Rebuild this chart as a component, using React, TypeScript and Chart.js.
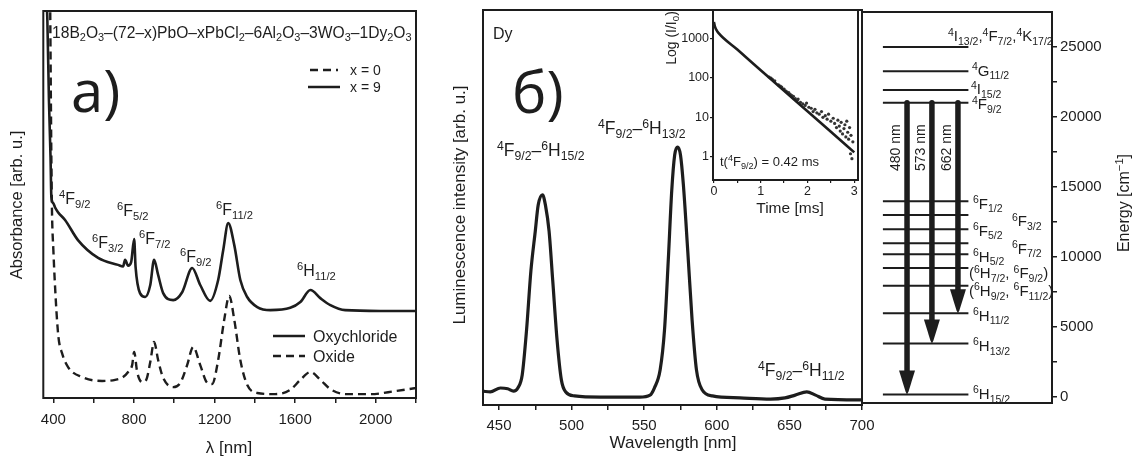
import React, { useEffect, useRef } from "react";
import { Chart, registerables } from "chart.js";

Chart.register(...registerables);

const SANS = "'Liberation Sans', Arial, Helvetica, sans-serif";
const PANEL_FONT = "'Open Sans', 'Noto Sans', sans-serif";
const INK = "#1d1d1d";

// ---------------- Panel a) absorbance ----------------
const absOxychlorideNm = [366, 370, 378, 386, 390, 400, 408, 423, 458, 522, 622, 721, 746, 756, 771, 786, 801, 808, 830, 856, 881, 900, 920, 945, 995, 1040, 1089, 1129, 1178, 1218, 1243, 1268, 1298, 1328, 1362, 1412, 1477, 1576, 1626, 1676, 1725, 1775, 1849, 2023, 2204];
const absOxychloride = [103, 98, 77, 62, 52, 50.3, 49.3, 48, 46, 40.8, 36.2, 34.4, 34.0, 35.7, 34.2, 35.1, 41.1, 33.9, 27.1, 26.1, 29.2, 35.7, 31.8, 27.1, 25.3, 27.4, 33.6, 29.2, 25.1, 30.5, 38.2, 45.2, 39.5, 30.5, 26.1, 23.5, 22.7, 23.3, 24.8, 27.9, 25.8, 24.0, 22.7, 22.5, 22.5];
const absOxideNm = [384, 390, 393, 400, 412, 425, 443, 473, 543, 642, 707, 746, 771, 791, 801, 816, 841, 861, 881, 900, 920, 945, 995, 1030, 1064, 1094, 1129, 1164, 1188, 1218, 1248, 1273, 1298, 1328, 1362, 1412, 1501, 1576, 1626, 1676, 1725, 1775, 1849, 1974, 2099, 2204];
const absOxide = [103, 62, 48.6, 38.2, 25.3, 15.8, 11.6, 8.0, 5.4, 4.4, 4.7, 5.4, 6.7, 8.5, 11.9, 6.7, 4.1, 4.7, 9.3, 14.5, 9.8, 5.2, 2.8, 3.9, 8.5, 13.2, 8.5, 3.9, 3.6, 9.8, 20.2, 26.4, 20.2, 9.8, 3.4, 1.3, 1.0, 2.1, 4.7, 6.7, 4.7, 2.3, 1.0, 1.0, 1.8, 2.6];
const absTickValues = [400, 600, 800, 1000, 1200, 1400, 1600, 1800, 2000, 2200];
const absTickLabels = ["400", "", "800", "", "1200", "", "1600", "", "2000", ""];

// ---------------- Panel б) luminescence ----------------
const lumiNm = [439, 444, 451, 456, 460, 463, 466, 469, 472, 475, 477, 480, 482, 484.5, 487, 490, 493, 496, 502, 520, 547, 554, 557, 561, 564, 566.6, 569, 571, 573, 575, 577, 580, 583, 586, 590, 597, 616, 637, 647, 654, 662, 668, 674.5, 700];
const lumiIntensity = [3.5, 3.3, 4.3, 4.1, 3.5, 4.3, 7.6, 19, 34, 44, 50.6, 53.2, 50.6, 44, 31.6, 16.5, 6.3, 3.3, 2.3, 2.0, 2.0, 2.5, 4.3, 8.9, 19, 36.7, 54.4, 63.3, 65.3, 63.3, 55.7, 39, 21.5, 8.9, 3.8, 2.3, 1.8, 1.5, 1.8, 2.5, 3.3, 2.5, 1.5, 1.3];
const lumiTickValues = [450, 475, 500, 525, 550, 575, 600, 625, 650, 675, 700];
const lumiTickLabels = ["450", "", "500", "", "550", "", "600", "", "650", "", "700"];

// ---------------- Inset: decay ----------------
const decayFitTime = [0, 0.02, 0.05, 0.1, 0.5, 1.0, 1.5, 2.0, 2.5, 3.0];
const decayFit = [2600, 2000, 1650, 1350, 518, 156, 47, 14.3, 4.3, 1.3];
const decayDotTime = [1.18, 1.22, 1.25, 1.3, 1.38, 1.42, 1.45, 1.5, 1.53, 1.56, 1.6, 1.63, 1.66, 1.7, 1.74, 1.78, 1.8, 1.85, 1.9, 1.95, 1.98, 2.03, 2.08, 2.12, 2.16, 2.2, 2.25, 2.3, 2.33, 2.38, 2.42, 2.45, 2.5, 2.55, 2.58, 2.62, 2.65, 2.68, 2.7, 2.72, 2.75, 2.78, 2.8, 2.82, 2.84, 2.86, 2.88, 2.9, 2.92, 2.93, 2.95, 2.97];
const decayDots = [105, 98, 92, 84, 66, 62, 58, 52, 47, 44, 42, 38, 36, 34, 30, 27, 29, 24, 22, 20, 23, 18, 17, 14, 16, 13, 12, 14, 10, 11, 9, 12, 8, 9.5, 7, 5.5, 8.5, 6, 4.5, 7.5, 3.8, 5.2, 6.5, 3.2, 8, 4.2, 2.8, 5.5, 1.2, 3.5, 0.9, 2.4];
const decayTimeTicks = [0, 0.5, 1, 1.5, 2, 2.5, 3];
const decayTimeLabels = ["0", "", "1", "", "2", "", "3"];
const decayLogTicks = [1, 10, 100, 1000];
const decayLogLabels = ["1", "10", "100", "1000"];

// ---------------- Energy levels ----------------
const levelNames = ["^{4}I_{13/2},^{4}F_{7/2},^{4}K_{17/2}", "^{4}G_{11/2}", "^{4}I_{15/2}", "^{4}F_{9/2}", "^{6}F_{1/2}", "^{6}F_{3/2}", "^{6}F_{5/2}", "^{6}F_{7/2}", "^{6}H_{5/2}", "(^{6}H_{7/2}, ^{6}F_{9/2})", "(^{6}H_{9/2}, ^{6}F_{11/2})", "^{6}H_{11/2}", "^{6}H_{13/2}", "^{6}H_{15/2}"];
const levelEnergy = [25000, 23270, 21920, 21016, 13980, 12985, 11970, 10974, 10190, 9197, 7940, 5970, 3795, 150];
const transitionLabels = ["480 nm", "573 nm", "662 nm"];
const transitionFrom = [21016, 21016, 21016];
const transitionTo = [150, 3795, 5970];
const energyTickValues = [0, 2500, 5000, 7500, 10000, 12500, 15000, 17500, 20000, 22500, 25000];
const energyTickLabels = ["0", "", "5000", "", "10000", "", "15000", "", "20000", "", "25000"];

// layout of the level diagram (x in scale units 0..100, label positions in page px)
const levelLineX = [11, 56];
const arrowX = [23.7, 36.8, 50.5];
const levelLabelX = [948, 972, 971, 972, 973, 1012, 973, 1012, 973, 969, 969, 973, 973, 973];
const levelLabelDy = [-11, -1, -1, 1, 2, 6, 1, 5, 2, 5, 5, 2, 2, -1];

// ---------------- rich text helpers ----------------
const SMALL = 0.7;
type Seg = { t: string; k: number };
function parseRich(text: string): Seg[] {
  const out: Seg[] = [];
  let i = 0;
  const isMark = (j: number) => (text[j] === "^" || text[j] === "_") && text[j + 1] === "{";
  while (i < text.length) {
    if (isMark(i)) {
      const end = text.indexOf("}", i);
      out.push({ t: text.slice(i + 2, end), k: text[i] === "^" ? 1 : -1 });
      i = end + 1;
    } else {
      let j = i;
      while (j < text.length && !isMark(j)) j++;
      out.push({ t: text.slice(i, j), k: 0 });
      i = j;
    }
  }
  return out;
}
function richWidth(ctx: CanvasRenderingContext2D, text: string, size: number, family = SANS) {
  let w = 0;
  for (const p of parseRich(text)) {
    ctx.font = `${p.k === 0 ? size : size * SMALL}px ${family}`;
    w += ctx.measureText(p.t).width;
  }
  return w;
}
function drawRich(ctx: CanvasRenderingContext2D, text: string, x: number, y: number, size: number, align = "left", family = SANS, color = INK) {
  const parts = parseRich(text);
  const total = richWidth(ctx, text, size, family);
  let cx = align === "center" ? x - total / 2 : align === "right" ? x - total : x;
  const base = y + size * 0.358;
  ctx.fillStyle = color;
  ctx.textBaseline = "alphabetic";
  ctx.textAlign = "left";
  for (const p of parts) {
    const s = p.k === 0 ? size : size * SMALL;
    ctx.font = `${s}px ${family}`;
    const dy = p.k === 1 ? -size * 0.37 : p.k === -1 ? size * 0.24 : 0;
    ctx.fillText(p.t, cx, base + dy);
    cx += ctx.measureText(p.t).width;
  }
}
function drawRotated(ctx: CanvasRenderingContext2D, text: string, cx: number, cy: number, size: number) {
  ctx.save();
  ctx.translate(cx, cy);
  ctx.rotate(-Math.PI / 2);
  drawRich(ctx, text, 0, 0, size, "center");
  ctx.restore();
}
function hLine(ctx: CanvasRenderingContext2D, x1: number, x2: number, y: number, dash: number[]) {
  ctx.save();
  ctx.strokeStyle = INK;
  ctx.lineWidth = 2.5;
  ctx.setLineDash(dash);
  ctx.beginPath();
  ctx.moveTo(x1, y);
  ctx.lineTo(x2, y);
  ctx.stroke();
  ctx.restore();
}

const TICK_GRID = { display: true, drawOnChartArea: false, drawTicks: true, tickLength: 5, color: INK, lineWidth: 1.5 };

const boxPlugin = {
  id: "box",
  afterDatasetsDraw(chart: any) {
    const { ctx, chartArea: a } = chart;
    ctx.save();
    ctx.strokeStyle = INK;
    ctx.lineWidth = 2;
    ctx.strokeRect(a.left, a.top, a.right - a.left, a.bottom - a.top);
    ctx.restore();
  },
};

function overlay(id: string, offX: number, offY: number, draw: (ctx: CanvasRenderingContext2D, chart: any) => void) {
  return {
    id,
    afterDraw(chart: any) {
      const ctx = chart.ctx as CanvasRenderingContext2D;
      ctx.save();
      ctx.translate(-offX, -offY);
      draw(ctx, chart);
      ctx.restore();
    },
  };
}

const baseOptions = { responsive: false, animation: false, events: [] as any[], plugins: { legend: { display: false }, tooltip: { enabled: false } } };

// ---------------- chart factories ----------------
function makeAbsorbance(): any {
  const title = "18B_{2}O_{3}–(72–x)PbO–xPbCl_{2}–6Al_{2}O_{3}–3WO_{3}–1Dy_{2}O_{3}";
  return {
    type: "line",
    data: {
      datasets: [
        { label: "Oxychloride", data: absOxychlorideNm.map((x, i) => ({ x, y: absOxychloride[i] })), borderColor: INK, borderWidth: 2.6, pointRadius: 0, cubicInterpolationMode: "monotone" },
        { label: "Oxide", data: absOxideNm.map((x, i) => ({ x, y: absOxide[i] })), borderColor: INK, borderWidth: 2.4, borderDash: [8, 5], pointRadius: 0, cubicInterpolationMode: "monotone" },
      ],
    },
    options: {
      ...baseOptions,
      layout: { padding: { left: 0, top: 11, right: 24, bottom: 0 } },
      scales: {
        x: {
          type: "linear", min: 350, max: 2200,
          afterBuildTicks: (s: any) => { s.ticks = absTickValues.map((value) => ({ value })); },
          afterFit: (s: any) => { s.height = 61; },
          ticks: { autoSkip: false, maxRotation: 0, minRotation: 0, padding: 8, color: INK, font: { family: SANS, size: 15 }, callback: (_v: any, i: number) => absTickLabels[i] },
          grid: TICK_GRID, border: { display: false },
        },
        y: { min: 0, max: 100, afterFit: (s: any) => { s.width = 43.3; }, ticks: { display: false }, grid: { display: false }, border: { display: false } },
      },
    },
    plugins: [
      boxPlugin,
      overlay("absText", 0, 0, (ctx) => {
        const natural = richWidth(ctx, title, 14);
        drawRich(ctx, title, 52, 32, (14 * 360) / natural);
        ctx.fillStyle = INK;
        ctx.font = `58px ${PANEL_FONT}`;
        ctx.textBaseline = "alphabetic";
        ctx.fillText("a)", 71, 112);
        hLine(ctx, 310, 338, 70, [8, 5]);
        drawRich(ctx, "x = 0", 350, 70, 14);
        hLine(ctx, 308, 340, 87, []);
        drawRich(ctx, "x = 9", 350, 87, 14);
        hLine(ctx, 273, 305, 336, []);
        drawRich(ctx, "Oxychloride", 313, 336, 16);
        hLine(ctx, 273, 305, 356, [8, 5]);
        drawRich(ctx, "Oxide", 313, 356, 16);
        drawRich(ctx, "^{4}F_{9/2}", 59, 198, 16);
        drawRich(ctx, "^{6}F_{5/2}", 117, 210, 16);
        drawRich(ctx, "^{6}F_{3/2}", 92, 242, 16);
        drawRich(ctx, "^{6}F_{7/2}", 139, 238, 16);
        drawRich(ctx, "^{6}F_{9/2}", 180, 256, 16);
        drawRich(ctx, "^{6}F_{11/2}", 216, 209, 16);
        drawRich(ctx, "^{6}H_{11/2}", 297, 270, 16);
        drawRich(ctx, "λ [nm]", 229, 447, 17, "center");
        drawRotated(ctx, "Absorbance [arb. u.]", 16, 205, 16.5);
      }),
    ],
  };
}

function makeLuminescence(): any {
  return {
    type: "line",
    data: {
      datasets: [
        { label: "Dy", data: lumiNm.map((x, i) => ({ x, y: lumiIntensity[i] })), borderColor: INK, borderWidth: 3.2, pointRadius: 0, cubicInterpolationMode: "monotone" },
      ],
    },
    options: {
      ...baseOptions,
      layout: { padding: { left: 0, top: 10, right: 38, bottom: 0 } },
      scales: {
        x: {
          type: "linear", min: 439, max: 700,
          afterBuildTicks: (s: any) => { s.ticks = lumiTickValues.map((value) => ({ value })); },
          afterFit: (s: any) => { s.height = 54; },
          ticks: { autoSkip: false, maxRotation: 0, minRotation: 0, padding: 7, color: INK, font: { family: SANS, size: 15 }, callback: (_v: any, i: number) => lumiTickLabels[i] },
          grid: TICK_GRID, border: { display: false },
        },
        y: { min: 0, max: 100, afterFit: (s: any) => { s.width = 43; }, ticks: { display: false }, grid: { display: false }, border: { display: false } },
      },
    },
    plugins: [
      boxPlugin,
      overlay("lumiText", 440, 0, (ctx) => {
        drawRich(ctx, "Dy", 493, 33, 16);
        ctx.fillStyle = INK;
        ctx.font = `58px ${PANEL_FONT}`;
        ctx.textBaseline = "alphabetic";
        ctx.fillText("б)", 512, 113);
        drawRich(ctx, "^{4}F_{9/2}–^{6}H_{15/2}", 497, 150, 17.5);
        drawRich(ctx, "^{4}F_{9/2}–^{6}H_{13/2}", 598, 128, 17.5);
        drawRich(ctx, "^{4}F_{9/2}–^{6}H_{11/2}", 758, 370, 17.5);
        drawRich(ctx, "Wavelength [nm]", 673, 442, 17, "center");
        drawRotated(ctx, "Luminescence intensity [arb. u.]", 459, 205, 17);
      }),
    ],
  };
}

function makeDecay(): any {
  return {
    type: "line",
    data: {
      datasets: [
        { label: "fit", data: decayFitTime.map((x, i) => ({ x, y: decayFit[i] })), borderColor: INK, borderWidth: 2.6, pointRadius: 0, cubicInterpolationMode: "monotone" },
        { label: "data", data: decayDotTime.map((x, i) => ({ x, y: decayDots[i] })), showLine: false, pointRadius: 1.6, pointBorderWidth: 0, pointBackgroundColor: "#333" },
      ],
    },
    options: {
      ...baseOptions,
      layout: { padding: { left: 0, top: 10, right: 0, bottom: 0 } },
      scales: {
        x: {
          type: "linear", min: -0.02, max: 3.08,
          afterBuildTicks: (s: any) => { s.ticks = decayTimeTicks.map((value) => ({ value })); },
          afterFit: (s: any) => { s.height = 50; },
          ticks: { autoSkip: false, maxRotation: 0, minRotation: 0, padding: 1, color: INK, font: { family: SANS, size: 12.5 }, callback: (_v: any, i: number) => decayTimeLabels[i] },
          grid: { ...TICK_GRID, tickLength: 3, lineWidth: 1.2 }, border: { display: false },
        },
        y: {
          type: "logarithmic", min: 0.26, max: 5200,
          afterBuildTicks: (s: any) => { s.ticks = decayLogTicks.map((value) => ({ value })); },
          afterFit: (s: any) => { s.width = 73; },
          ticks: { autoSkip: false, padding: 1, color: INK, font: { family: SANS, size: 12.5 }, callback: (_v: any, i: number) => decayLogLabels[i] },
          grid: { ...TICK_GRID, tickLength: 3, lineWidth: 1.2 }, border: { display: false },
        },
      },
    },
    plugins: [
      {
        id: "insetBg",
        beforeDatasetsDraw(chart: any) {
          const { ctx, chartArea: a } = chart;
          ctx.save();
          ctx.fillStyle = "#fff";
          ctx.fillRect(a.left, a.top, a.right - a.left, a.bottom - a.top);
          ctx.restore();
        },
      },
      boxPlugin,
      overlay("decayText", 640, 0, (ctx) => {
        drawRich(ctx, "t(^{4}F_{9/2}) = 0.42 ms", 720, 161, 13);
        drawRich(ctx, "Time [ms]", 790, 207, 15.5, "center");
        drawRotated(ctx, "Log (I/I_{0})", 671, 38, 14);
      }),
    ],
  };
}

function makeEnergy(): any {
  const levelSets = levelEnergy.map((e, i) => ({
    label: levelNames[i],
    data: levelLineX.map((x) => ({ x, y: e })),
    borderColor: INK, borderWidth: 2, pointRadius: 0,
  }));
  const shaftSets = transitionLabels.map((t, i) => ({
    label: t,
    data: [{ x: arrowX[i], y: transitionFrom[i] }, { x: arrowX[i], y: transitionTo[i] + 900 }],
    borderColor: INK, borderWidth: 5.5, pointRadius: 0, borderCapStyle: "round",
  }));
  return {
    type: "line",
    data: { datasets: [...levelSets, ...shaftSets] },
    options: {
      ...baseOptions,
      layout: { padding: { left: 12, top: 10, right: 0, bottom: 56 } },
      scales: {
        x: { type: "linear", min: 0, max: 100, display: false },
        y: {
          position: "right", min: -450, max: 27500,
          afterBuildTicks: (s: any) => { s.ticks = energyTickValues.map((value) => ({ value })); },
          afterFit: (s: any) => { s.width = 87; },
          ticks: { autoSkip: false, padding: 3, color: INK, font: { family: SANS, size: 15 }, callback: (_v: any, i: number) => energyTickLabels[i] },
          grid: TICK_GRID, border: { display: false },
        },
      },
    },
    plugins: [
      boxPlugin,
      overlay("energyText", 850, 0, (ctx, chart) => {
        const xs = chart.scales.x;
        const ys = chart.scales.y;
        ctx.save();
        ctx.translate(850, 0);
        ctx.fillStyle = INK;
        transitionTo.forEach((to, i) => {
          const px = xs.getPixelForValue(arrowX[i]);
          const tip = ys.getPixelForValue(to);
          ctx.beginPath();
          ctx.moveTo(px - 8, tip - 24);
          ctx.lineTo(px + 8, tip - 24);
          ctx.lineTo(px + 1.5, tip - 3);
          ctx.lineTo(px, tip);
          ctx.lineTo(px - 1.5, tip - 3);
          ctx.closePath();
          ctx.fill();
        });
        ctx.restore();
        levelNames.forEach((name, i) => {
          const y = ys.getPixelForValue(levelEnergy[i]) + levelLabelDy[i];
          drawRich(ctx, name, levelLabelX[i], y, 15);
        });
        transitionLabels.forEach((t, i) => {
          const px = xs.getPixelForValue(arrowX[i]) + 850 - 12;
          drawRotated(ctx, t, px, ys.getPixelForValue(17800), 14);
        });
        drawRotated(ctx, "Energy [cm^{−1}]", 1123, 203, 16);
      }),
    ],
  };
}

function ChartCanvas(props: { left: number; top: number; width: number; height: number; make: () => any }) {
  const ref = useRef<HTMLCanvasElement>(null);
  useEffect(() => {
    const chart = new Chart(ref.current as HTMLCanvasElement, props.make());
    return () => chart.destroy();
  }, []);
  return (
    <canvas
      ref={ref}
      width={props.width}
      height={props.height}
      style={{ position: "absolute", left: props.left, top: props.top, width: props.width, height: props.height }}
    />
  );
}

export default function App() {
  return (
    <div style={{ position: "absolute", left: 0, top: 0, width: 1139, height: 459, background: "#fff", overflow: "hidden" }}>
      <ChartCanvas left={0} top={0} width={440} height={459} make={makeAbsorbance} />
      <ChartCanvas left={440} top={0} width={460} height={459} make={makeLuminescence} />
      <ChartCanvas left={640} top={0} width={222} height={230} make={makeDecay} />
      <ChartCanvas left={850} top={0} width={289} height={459} make={makeEnergy} />
    </div>
  );
}
